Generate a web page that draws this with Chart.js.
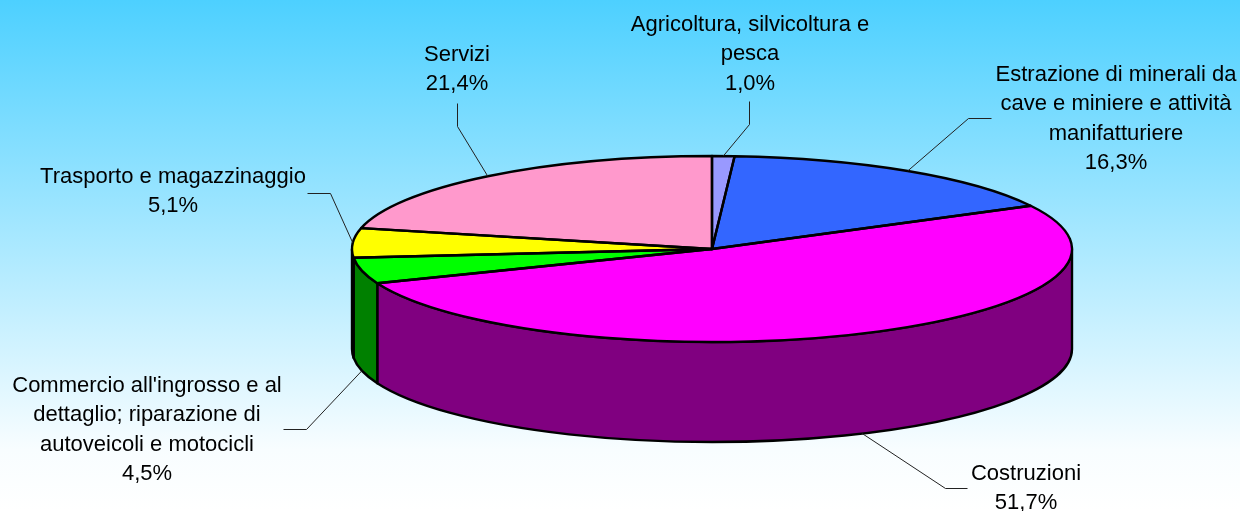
<!DOCTYPE html>
<html>
<head>
<meta charset="utf-8">
<style>html,body{margin:0;padding:0;background:#fff}#w{width:1240px;height:511px}canvas{display:block}</style>
<script src="https://cdn.jsdelivr.net/npm/chart.js@4"></script>
</head>
<body>
<div id="w"><canvas id="c" width="1240" height="511"></canvas></div>
<script>
const categories = [
  "Agricoltura, silvicoltura e|pesca",
  "Estrazione di minerali da|cave e miniere e attività|manifatturiere",
  "Costruzioni",
  "Commercio all'ingrosso e al|dettaglio; riparazione di|autoveicoli e motocicli",
  "Trasporto e magazzinaggio",
  "Servizi"
];
const values = [1.0, 16.3, 51.7, 4.5, 5.1, 21.4];
const topColors = ["#9999FF", "#3366FF", "#FF00FF", "#00FF00", "#FFFF00", "#FF99CC"];
const wallColors = ["#4D4D80", "#1A3380", "#800080", "#008000", "#808000", "#804D66"];
// label layout: text centre x, first-line centre y, elbow and end of leader
const labelX = [750, 1116, 1026, 147, 173, 457];
const labelY = [25, 75, 474, 386, 177, 55];
const elbowPts = [[749,124],[968,118],[945,488],[306,429],[330,193],[457,126]];
const endPts = [[749,101],[991,118],[967,488],[283,429],[307,193],[457,103]];
const RX = 360, RY = 93, DEPTH = 100, LINE_H = 29.3;

const pie3d = {
  id: 'pie3d',
  beforeDraw(chart) {
    const ctx = chart.ctx;
    const g = ctx.createLinearGradient(0, 0, 0, chart.height);
    g.addColorStop(0, '#4DD0FF');
    g.addColorStop(0.88, '#F8FDFF');
    g.addColorStop(1, '#FFFFFF');
    ctx.save();
    ctx.fillStyle = g;
    ctx.fillRect(0, 0, chart.width, chart.height);
    ctx.restore();
  },
  beforeDatasetsDraw(chart) {
    const ctx = chart.ctx, arcs = chart.getDatasetMeta(0).data;
    const cx = arcs[0].x, cy = arcs[0].y;
    ctx.save();
    ctx.lineWidth = 2.4;
    ctx.strokeStyle = '#000';
    ctx.lineJoin = 'round';
    arcs.forEach((a, i) => {
      const s = Math.max(a.startAngle, 0), e = Math.min(a.endAngle, Math.PI);
      if (e <= s) return;
      ctx.beginPath();
      ctx.ellipse(cx, cy, RX, RY, 0, s, e);
      ctx.ellipse(cx, cy + DEPTH, RX, RY, 0, e, s, true);
      ctx.closePath();
      ctx.fillStyle = wallColors[i];
      ctx.fill();
      ctx.stroke();
    });
    ctx.restore();
    ctx.save();
    ctx.translate(cx, cy);
    ctx.scale(RX / arcs[0].outerRadius, RY / arcs[0].outerRadius);
    ctx.translate(-cx, -cy);
  },
  afterDatasetsDraw(chart) {
    const ctx = chart.ctx, arcs = chart.getDatasetMeta(0).data;
    ctx.restore();
    const cx = arcs[0].x, cy = arcs[0].y;
    ctx.save();
    ctx.lineWidth = 2.4;
    ctx.strokeStyle = '#000';
    ctx.lineJoin = 'round';
    arcs.forEach(a => {
      ctx.beginPath();
      ctx.moveTo(cx, cy);
      ctx.ellipse(cx, cy, RX, RY, 0, a.startAngle, a.endAngle);
      ctx.closePath();
      ctx.stroke();
    });
    ctx.restore();
    // leaders and labels
    ctx.save();
    ctx.font = '22px "Liberation Sans", Arial, sans-serif';
    ctx.textAlign = 'center';
    ctx.textBaseline = 'middle';
    ctx.fillStyle = '#000';
    arcs.forEach((a, i) => {
      const m = (a.startAngle + a.endAngle) / 2;
      const px = cx + RX * Math.cos(m);
      let py = cy + RY * Math.sin(m);
      if (Math.sin(m) > 0) py += DEPTH;
      ctx.beginPath();
      ctx.moveTo(px, py);
      ctx.lineTo(elbowPts[i][0] + 0.5, elbowPts[i][1] + 0.5);
      ctx.lineTo(endPts[i][0] + 0.5, endPts[i][1] + 0.5);
      ctx.lineWidth = 1;
      ctx.strokeStyle = '#222';
      ctx.stroke();
      const lines = categories[i].split('|').concat(values[i].toFixed(1).replace('.', ',') + '%');
      lines.forEach((t, k) => ctx.fillText(t, labelX[i], labelY[i] + k * LINE_H));
    });
    ctx.restore();
  }
};

new Chart(document.getElementById('c'), {
  type: 'pie',
  data: {
    labels: categories.map(s => s.replace(/\|/g, ' ')),
    datasets: [{ data: values, backgroundColor: topColors, borderWidth: 0, clip: false }]
  },
  options: {
    responsive: false,
    animation: false,
    layout: { padding: { left: 184, right: 0, top: 0, bottom: 13 } },
    plugins: { legend: { display: false }, tooltip: { enabled: false } }
  },
  plugins: [pie3d]
});
</script>
</body>
</html>
